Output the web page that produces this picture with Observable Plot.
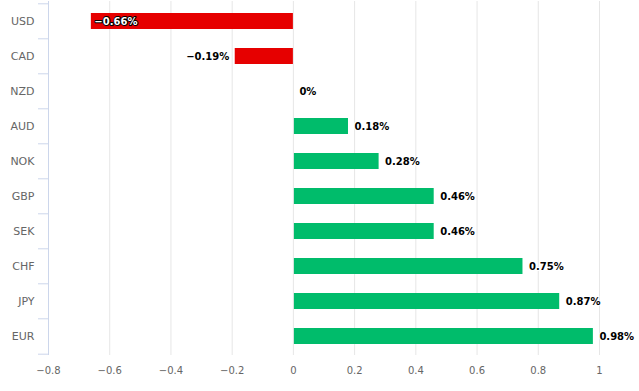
<!DOCTYPE html>
<html>
<head>
<meta charset="utf-8">
<script src="https://cdn.jsdelivr.net/npm/d3@7"></script>
<script src="https://cdn.jsdelivr.net/npm/@observablehq/plot@0.6"></script>
<style>
  html, body { margin: 0; padding: 0; background: #fff; }
</style>
</head>
<body>
<div id="chart"></div>
<script>
const categories = ["USD", "CAD", "NZD", "AUD", "NOK", "GBP", "SEK", "CHF", "JPY", "EUR"];
const values = [-0.66, -0.19, 0, 0.18, 0.28, 0.46, 0.46, 0.75, 0.87, 0.98];
const xTicks = [-0.8, -0.6, -0.4, -0.2, 0, 0.2, 0.4, 0.6, 0.8, 1];

const data = categories.map((c, i) => ({cat: c, value: values[i]}));
const fmtLabel = v => (v === 0 ? "0" : d3.format(".2f")(v)) + "%";
const fmtTick = d => d3.format("~g")(d);

const W = 639, H = 391;
const mTop = 1, mBottom = 36, mLeft = 48, mRight = 40;
const halfStep = (H - mTop - mBottom) / categories.length / 2;

const red = "#e60000", green = "#00bc6b";
const axisBlue = "#ccd6eb";

const chart = Plot.plot({
  width: W,
  height: H,
  marginTop: mTop,
  marginBottom: mBottom,
  marginLeft: mLeft,
  marginRight: mRight,
  style: {fontFamily: "DejaVu Sans", background: "#fff", overflow: "visible"},
  x: {domain: [-0.8, 1], ticks: xTicks, label: null},
  y: {domain: categories, paddingInner: 0.55, paddingOuter: 0.275, label: null},
  marks: [
    Plot.gridX(xTicks.filter(t => t !== -0.8), {stroke: "#e6e6e6", strokeOpacity: 1}),
    Plot.ruleX([-0.8], {stroke: axisBlue}),
    Plot.axisX({ticks: xTicks, tickSize: 0, tickPadding: 11, tickFormat: fmtTick, fontSize: 10, fill: "#666", label: null}),
    Plot.axisY({ticks: categories, tickSize: 10, tickFormat: () => "", dy: -halfStep, stroke: axisBlue, label: null}),
    Plot.axisY({ticks: categories.slice(-1), tickSize: 10, tickFormat: () => "", dy: halfStep, stroke: axisBlue, label: null}),
    Plot.axisY({ticks: categories, tickSize: 0, tickPadding: 14, fontSize: 11, fill: "#666", label: null}),
    Plot.barX(data.filter(d => d.value < 0), {x: "value", y: "cat", fill: red}),
    Plot.barX(data.filter(d => d.value > 0), {x: "value", y: "cat", fill: green, insetLeft: 1}),
    Plot.text(data.filter(d => d.value >= 0), {x: "value", y: "cat", text: d => fmtLabel(d.value), textAnchor: "start", dx: 6, fontWeight: "bold", fontSize: 10, fill: "#000", stroke: "#fff", strokeWidth: 2}),
    Plot.text(data.filter(d => d.value < 0 && d.value > -0.5), {x: "value", y: "cat", text: d => fmtLabel(d.value), textAnchor: "end", dx: -6, fontWeight: "bold", fontSize: 10, fill: "#000", stroke: "#fff", strokeWidth: 2}),
    Plot.text(data.filter(d => d.value <= -0.5), {x: "value", y: "cat", text: d => fmtLabel(d.value), textAnchor: "start", dx: 3, fontWeight: "bold", fontSize: 10, fill: "#fff", stroke: "#000", strokeWidth: 2})
  ]
});
document.getElementById("chart").appendChild(chart);
</script>
</body>
</html>
